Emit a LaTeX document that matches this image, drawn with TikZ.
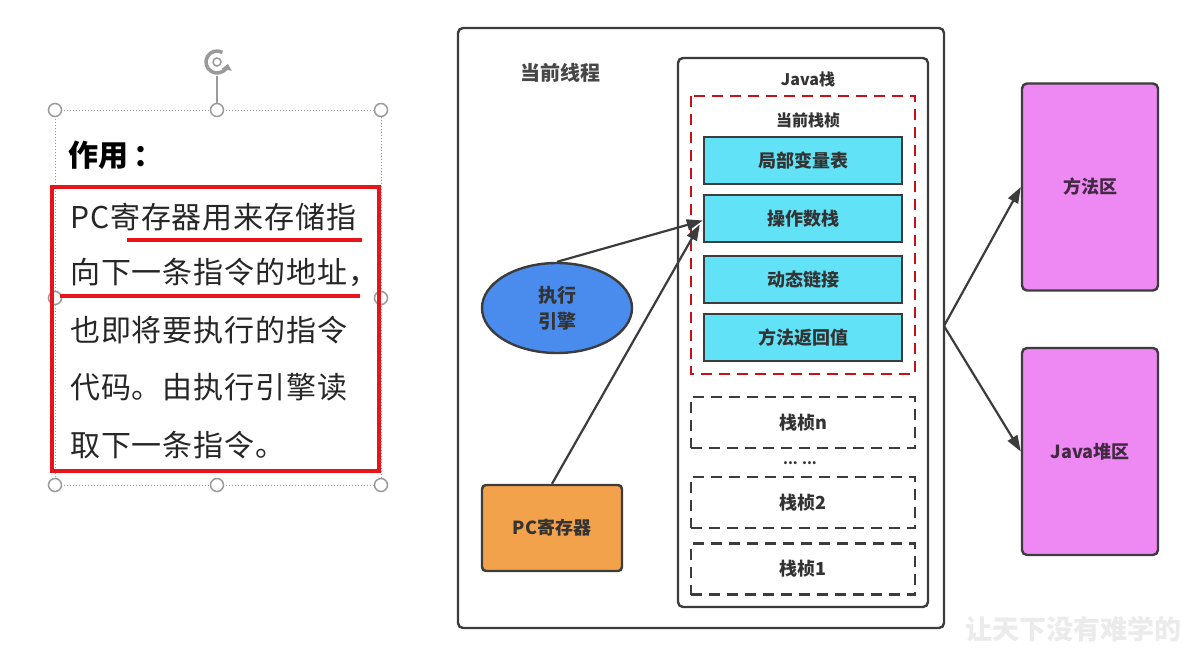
\documentclass[tikz,border=0pt]{standalone}
\usepackage{fontspec}
\usepackage{xcolor}
\usepackage{tikz}
\usetikzlibrary{arrows.meta,shapes.geometric}
\newfontfamily\cjk{Noto Sans CJK SC}
\newfontfamily\cjkwide[LetterSpace=3.0]{Noto Sans CJK SC}
\definecolor{edge}{HTML}{3C3C3C}
\definecolor{ink}{HTML}{333333}
\definecolor{slotbg}{HTML}{62E2F6}
\definecolor{enginebg}{HTML}{4A8CEE}
\definecolor{pcbg}{HTML}{F3A24C}
\definecolor{areabg}{HTML}{EE88F2}
\definecolor{redmark}{HTML}{E8141B}
\definecolor{handlegray}{HTML}{9A9A9A}
\definecolor{wmark}{HTML}{EBEBEB}
\tikzset{
  boxframe/.style={draw=edge, line width=2.4pt, rounded corners=5pt},
  slot/.style={draw=edge, line width=2.4pt, fill=slotbg, minimum width=198pt, minimum height=47pt,
    font=\cjk\bfseries\fontsize{18}{20}\selectfont, text=ink},
  ghost/.style={draw=edge, line width=2.4pt, dash pattern=on 11pt off 7pt, minimum width=224pt,
    minimum height=51pt, font=\cjk\bfseries\fontsize{18}{20}\selectfont, text=ink},
  area/.style={draw=edge, line width=2.4pt, fill=areabg, rounded corners=5pt, minimum width=136pt,
    minimum height=207pt, font=\cjk\bfseries\fontsize{18}{20}\selectfont, text=ink!80!violet},
  title/.style={font=\cjk\bfseries\fontsize{18}{20}\selectfont, text=ink},
  link/.style={draw=edge, line width=2.2pt, -{Triangle[length=16pt,width=11pt]}},
  handle/.style={circle, draw=handlegray, fill=white, line width=1.5pt, minimum size=13pt, inner sep=0pt},
  txt/.style={anchor=west, inner sep=0pt, font=\cjkwide\fontsize{30}{32}\selectfont, text=black!85},
  redline/.style={draw=redmark, line width=4.5pt},
}
\begin{document}
\begin{tikzpicture}[x=1pt,y=-1pt]
  \useasboundingbox[fill=white] (0,0) rectangle (1200,648);

  % selected text box on the left
  \draw[handlegray, line width=1pt, dotted] (55,110) rectangle (381,485);
  \coordinate (rot) at (217,62);
  \draw[handlegray, line width=1.5pt] (217,110) -- (217,76);
  \draw[handlegray, line width=3.5pt, -{Triangle[length=6pt,width=10pt]}] ([shift={(300:11)}]rot) arc[start angle=300, end angle=10, radius=11];
  \draw[handlegray, line width=1.5pt] (rot) circle[radius=4];
  \node[handle] (h1) at (55,110) {};
  \node[handle] (h2) at (217,110) {};
  \node[handle] (h3) at (381,110) {};
  \node[handle] (h4) at (55,298) {};
  \node[handle] (h5) at (381,298) {};
  \node[handle] (h6) at (55,485) {};
  \node[handle] (h7) at (217,485) {};
  \node[handle] (h8) at (381,485) {};

  \node[anchor=west, inner sep=0pt, font=\cjk\bfseries\fontsize{30}{32}\selectfont] (role) at (68,155) {作用\,：};
  \draw[redline, line width=3.5pt] (52,187) rectangle (379,471);
  \node[txt] (l1) at (70,217) {PC寄存器用来存储指};
  \node[txt] (l2) at (70,272) {向下一条指令的地址，};
  \node[txt] (l3) at (70,330) {也即将要执行的指令};
  \node[txt] (l4) at (70,387) {代码。由执行引擎读};
  \node[txt] (l5) at (70,445) {取下一条指令。};
  \draw[redline] (127,240) -- (362,240);
  \draw[redline] (60,296) -- (360,296);

  % current thread
  \draw[boxframe] (458,28) rectangle (944,628);
  \coordinate (fork) at (944,326);
  \node[title, font=\cjk\bfseries\fontsize{20}{22}\selectfont, text=ink!90] (thread) at (560,73) {当前线程};

  \draw[boxframe] (678,58) rectangle (928,607);
  \node[title, font=\cjk\bfseries\fontsize{16}{18}\selectfont] (javastack) at (808,79) {Java栈};
  \draw[draw=redmark!85!black, line width=2.4pt, dash pattern=on 11pt off 7pt] (691,96) rectangle (915,374);
  \node[title, font=\cjk\bfseries\fontsize{16}{18}\selectfont] (curframe) at (808,120) {当前栈桢};

  \node[slot] (lvt) at (803,160.5) {局部变量表};
  \node[slot] (opstack) at (803,218.5) {操作数栈};
  \node[slot] (dynlink) at (803,279.5) {动态链接};
  \node[slot] (retval) at (803,337.5) {方法返回值};

  \node[ghost] (framen) at (803,422.5) {栈桢n};
  \node[title, font=\cjk\bfseries\fontsize{14}{16}\selectfont] (dots) at (800,463) {... ...};
  \node[ghost] (frame2) at (803,502.5) {栈桢2};
  \node[ghost] (frame1) at (803,569) {栈桢1};

  \node[ellipse, draw=edge, line width=2.4pt, fill=enginebg, minimum width=150pt, minimum height=90pt,
    inner sep=0pt, align=center, font=\cjk\bfseries\fontsize{19}{26}\selectfont, text=ink] (engine) at (557,308) {执行\\引擎};
  \node[draw=edge, line width=2.4pt, fill=pcbg, rounded corners=4pt, minimum width=140pt, minimum height=86pt,
    font=\cjk\bfseries\fontsize{18}{20}\selectfont, text=ink] (pcreg) at (552,528) {PC寄存器};

  \draw[link] (engine.north) -- ([yshift=-2pt]opstack.west);
  \draw[link] (pcreg.north) -- ([xshift=-3pt,yshift=-6pt]opstack.west);

  % shared areas
  \node[area] (methodarea) at (1090,187) {方法区};
  \node[area] (heap) at (1090,451.5) {Java堆区};
  \draw[link] (fork) -- (methodarea.west);
  \draw[link] (fork) -- (heap.west);

  \node[anchor=west, inner sep=0pt, font=\cjk\bfseries\fontsize{27}{29}\selectfont, text=wmark] (wm) at (965,629) {让天下没有难学的};
\end{tikzpicture}
\end{document}
